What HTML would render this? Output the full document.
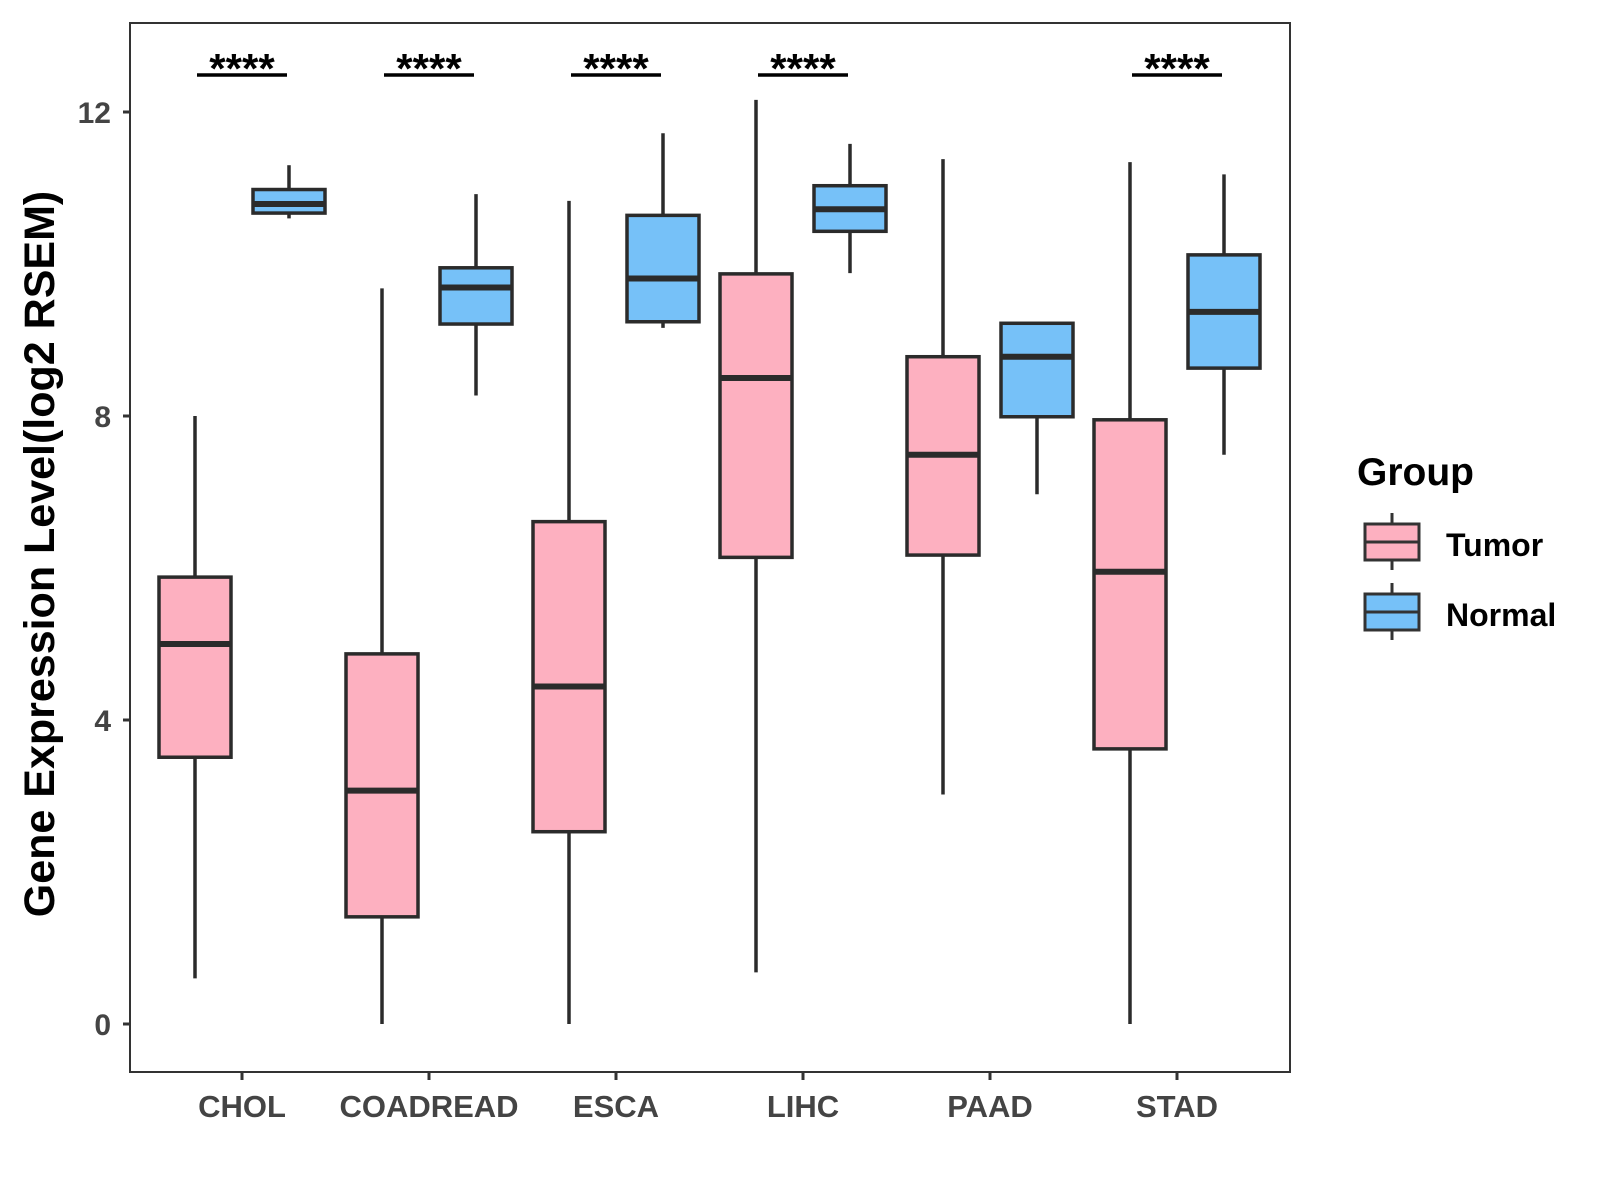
<!DOCTYPE html>
<html><head><meta charset="utf-8"><style>body{margin:0;background:#fff}svg{display:block}</style></head>
<body>
<svg id="chart" width="1600" height="1200" xmlns="http://www.w3.org/2000/svg" font-family="Liberation Sans, sans-serif">
<rect x="130" y="23" width="1160" height="1049" fill="#fff" stroke="#333" stroke-width="2"/>
<g id="plot"></g>
<text transform="translate(54,554) rotate(-90)" text-anchor="middle" font-size="43" font-weight="bold" fill="#000">Gene Expression Level(log2 RSEM)</text>
<g>
<text x="1357" y="485" font-size="39" font-weight="bold">Group</text>
<g>
<line x1="1392" x2="1392" y1="513" y2="570" stroke="#333" stroke-width="3"/>
<rect x="1365" y="524" width="54" height="36" fill="#FDB0C0" stroke="#333" stroke-width="3"/>
<line x1="1365" x2="1419" y1="542" y2="542" stroke="#333" stroke-width="3"/>
<text x="1446" y="556" font-size="32" font-weight="bold">Tumor</text></g>
<g>
<line x1="1392" x2="1392" y1="583" y2="640" stroke="#333" stroke-width="3"/>
<rect x="1365" y="594" width="54" height="36" fill="#76C1F8" stroke="#333" stroke-width="3"/>
<line x1="1365" x2="1419" y1="612" y2="612" stroke="#333" stroke-width="3"/>
<text x="1446" y="626" font-size="32" font-weight="bold">Normal</text></g>
</g>
</svg>
<script>
const categories=["CHOL","COADREAD","ESCA","LIHC","PAAD","STAD"];
// [low, q1, median, q3, high]
const tumor=[[0.6,3.51,5.0,5.88,8.0],[0,1.41,3.07,4.87,9.68],[0,2.53,4.44,6.61,10.83],[0.68,6.14,8.5,9.87,12.16],[3.02,6.17,7.49,8.78,11.38],[0,3.62,5.95,7.95,11.34]];
const normal=[[10.6,10.67,10.79,10.98,11.3],[8.27,9.21,9.69,9.95,10.92],[9.16,9.24,9.81,10.64,11.72],[9.88,10.43,10.72,11.03,11.58],[6.97,7.99,8.78,9.22,9.22],[7.49,8.63,9.37,10.12,11.18]];
const signif=["****","****","****","****","","****"];
const yTicks=[0,4,8,12];
const NS="http://www.w3.org/2000/svg";
const g=document.getElementById('plot');
const y=v=>1024-76*v;
const x=i=>242+187*i;
function mk(t,a,p){const e=document.createElementNS(NS,t);for(const k in a)e.setAttribute(k,a[k]);(p||g).appendChild(e);return e;}
yTicks.forEach(t=>{
 const l=mk('line',{x1:123,x2:130,y1:y(t),y2:y(t),stroke:'#333','stroke-width':3});
 
 
 const tx=mk('text',{x:111,y:y(t)+11,'text-anchor':'end','font-size':30,'font-weight':'bold',fill:'#444'});
 tx.textContent=t;
 
 
});
function box(cx,d,fill,name){
 const grp=mk('g',{});
 
 
 mk('line',{x1:cx,x2:cx,y1:y(d[4]),y2:y(d[0]),stroke:'#2b2b2b','stroke-width':3.5},grp);
 mk('rect',{x:cx-36,y:y(d[3]),width:72,height:Math.max(y(d[1])-y(d[3]),1),fill:fill,stroke:'#2b2b2b','stroke-width':3.5},grp);
 mk('line',{x1:cx-36,x2:cx+36,y1:y(d[2]),y2:y(d[2]),stroke:'#2b2b2b','stroke-width':6},grp);
}
categories.forEach((c,i)=>{
 box(x(i)-47,tumor[i],'#FDB0C0','box-tumor-'+c.toLowerCase());
 box(x(i)+47,normal[i],'#76C1F8','box-normal-'+c.toLowerCase());
 const tk=mk('line',{x1:x(i),x2:x(i),y1:1072,y2:1080,stroke:'#333','stroke-width':3});
 
 
 const lb=mk('text',{x:x(i),y:1117,'text-anchor':'middle','font-size':31,'font-weight':'bold',fill:'#444'});
 lb.textContent=c;
 
 
 if(signif[i]){
  const b=mk('line',{x1:x(i)-45,x2:x(i)+45,y1:75,y2:75,stroke:'#000','stroke-width':3.5});
  
  
  const s=mk('text',{x:x(i),y:83,'text-anchor':'middle','font-size':42,'font-weight':'bold',fill:'#000'});
  s.textContent=signif[i];
  
  
 }
});
</script>
</body></html>
